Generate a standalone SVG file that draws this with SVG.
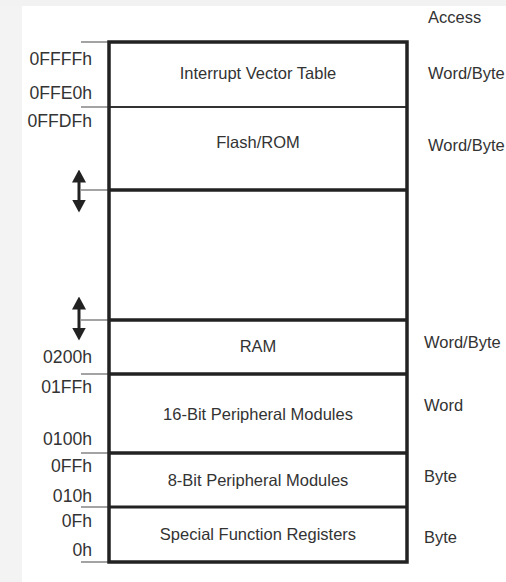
<svg xmlns="http://www.w3.org/2000/svg" width="506" height="582" viewBox="0 0 506 582">
<style>
text{font-family:"Liberation Sans",Arial,sans-serif;font-size:16.5px;fill:#333}
.c{text-anchor:middle}
.a{text-anchor:end;font-size:17.6px}
.reg{fill:#fff}
.tick{stroke:#666;stroke-width:1.2}
.div{stroke:#222;stroke-width:3.5}
.thin{stroke:#333;stroke-width:2}
.arr{stroke:#222;stroke-width:3;fill:none}
</style>
<defs>
<marker id="ah" viewBox="0 0 13 14" refX="0.5" refY="7" markerWidth="13" markerHeight="14" markerUnits="userSpaceOnUse" orient="auto-start-reverse">
<path d="M0,0 L13,7 L0,14 z" fill="#222"/>
</marker>
</defs>
<rect x="0" y="0" width="506" height="582" fill="#fff"/>
<rect x="0" y="0" width="22" height="582" fill="#f3f3f3"/>
<rect x="0" y="0" width="506" height="6" fill="#f2f2f2"/>
<text x="428" y="22.5">Access</text>
<g id="ivt">
<rect class="reg" x="109" y="42" width="298" height="65"/>
<text class="c" x="258" y="79">Interrupt Vector Table</text>
<text x="428" y="79">Word/Byte</text>
<text class="a" x="92" y="65">0FFFFh</text>
<text class="a" x="92" y="99">0FFE0h</text>
</g>
<g id="flash">
<rect class="reg" x="109" y="107" width="298" height="83"/>
<text class="c" x="258" y="148">Flash/ROM</text>
<text x="428" y="151">Word/Byte</text>
<text class="a" x="92" y="127">0FFDFh</text>
</g>
<g id="gap">
<rect class="reg" x="109" y="190" width="298" height="130"/>
</g>
<g id="ram">
<rect class="reg" x="109" y="320" width="298" height="54"/>
<text class="c" x="258" y="352">RAM</text>
<text x="424" y="348">Word/Byte</text>
<text class="a" x="92" y="362.5">0200h</text>
</g>
<g id="p16">
<rect class="reg" x="109" y="374" width="298" height="79"/>
<text class="c" x="258" y="420">16-Bit Peripheral Modules</text>
<text x="424" y="410.5">Word</text>
<text class="a" x="92" y="393">01FFh</text>
<text class="a" x="92" y="445">0100h</text>
</g>
<g id="p8">
<rect class="reg" x="109" y="453" width="298" height="54"/>
<text class="c" x="258" y="485.5">8-Bit Peripheral Modules</text>
<text x="424" y="481.5">Byte</text>
<text class="a" x="92" y="472">0FFh</text>
<text class="a" x="92" y="501.5">010h</text>
</g>
<g id="sfr">
<rect class="reg" x="109" y="507" width="298" height="55"/>
<text class="c" x="258" y="540">Special Function Registers</text>
<text x="424" y="543">Byte</text>
<text class="a" x="92" y="526.5">0Fh</text>
<text class="a" x="92" y="556">0h</text>
</g>
<g id="frame">
<line class="tick" x1="81" y1="42" x2="109" y2="42"/>
<line class="tick" x1="81" y1="107" x2="109" y2="107"/>
<line class="tick" x1="81" y1="190" x2="109" y2="190"/>
<line class="tick" x1="81" y1="320" x2="109" y2="320"/>
<line class="tick" x1="81" y1="374" x2="109" y2="374"/>
<line class="tick" x1="81" y1="453" x2="109" y2="453"/>
<line class="tick" x1="81" y1="507" x2="109" y2="507"/>
<line class="tick" x1="81" y1="562" x2="109" y2="562"/>
<line class="thin" x1="109" y1="107" x2="407" y2="107"/>
<line class="div" x1="109" y1="190" x2="407" y2="190"/>
<line class="div" x1="109" y1="320" x2="407" y2="320"/>
<line class="div" x1="109" y1="374" x2="407" y2="374"/>
<line class="div" x1="109" y1="453" x2="407" y2="453"/>
<line class="div" x1="109" y1="507" x2="407" y2="507" style="stroke-width:3"/>
<rect x="109" y="42" width="298" height="520" fill="none" stroke="#222" stroke-width="3.5"/>
</g>
<g id="connectors">
<path class="arr" d="M79,182 L79,200" marker-start="url(#ah)" marker-end="url(#ah)"/>
<path class="arr" d="M79,309 L79,328" marker-start="url(#ah)" marker-end="url(#ah)"/>
</g>
</svg>
